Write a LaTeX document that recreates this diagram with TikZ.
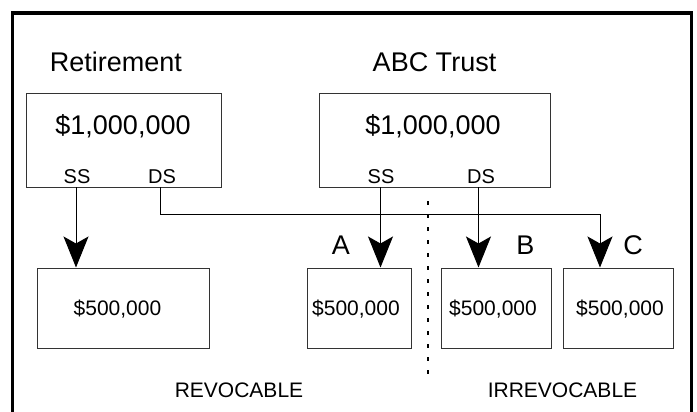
\documentclass[tikz,border=0pt]{standalone}
\usepackage{fontspec}
\setmainfont{Liberation Sans}
\usetikzlibrary{arrows.meta}

\tikzset{
  box/.style={draw=black!80, line width=1pt, inner sep=0pt},
  bigbox/.style={box, minimum width=195pt, minimum height=93pt},
  smallbox/.style={box, minimum width=104pt, minimum height=80pt},
  flow/.style={line width=1pt, -{Stealth[length=31pt,width=25pt,inset=7pt]}},
}

\begin{document}
\begin{tikzpicture}[x=1pt,y=-1pt]
\useasboundingbox (0,0) rectangle (697,412);
% outer frame, runs off the bottom
\draw[line width=3.5pt] (12.5,430) -- (12.5,13) -- (691.5,13) -- (691.5,430);

% the two accounts
\node[font=\fontsize{27}{30}\selectfont] (rettitle) at (116,62) {Retirement};
\node[font=\fontsize{27}{30}\selectfont] (abctitle) at (434.5,62) {ABC Trust};
\node[bigbox, minimum width=195pt] (ret) at (123.5,140.5) {};
\node[bigbox, minimum width=231pt] (abc) at (434.5,140.5) {};
\node[font=\fontsize{27}{30}\selectfont] (retamt) at (123,126) {\$1,000,000};
\node[font=\fontsize{27}{30}\selectfont] (abcamt) at (433,126) {\$1,000,000};
\node[font=\fontsize{20}{22}\selectfont] (retss) at (77,177) {SS};
\node[font=\fontsize{20}{22}\selectfont] (retds) at (162,177) {DS};
\node[font=\fontsize{20}{22}\selectfont] (abcss) at (381,177) {SS};
\node[font=\fontsize{20}{22}\selectfont] (abcds) at (481,177) {DS};

% the shares
\node[box, minimum width=172pt, minimum height=80pt] (low) at (123,308) {};
\node[smallbox] (lowa) at (359,308) {};
\node[smallbox, minimum width=110pt] (lowb) at (496,308) {};
\node[smallbox, minimum width=110pt] (lowc) at (618,308) {};
\node[font=\fontsize{21}{24}\selectfont] (amt0) at (117.5,309) {\$500,000};
\node[font=\fontsize{21}{24}\selectfont] (amta) at (356,309) {\$500,000};
\node[font=\fontsize{21}{24}\selectfont] (amtb) at (493,309) {\$500,000};
\node[font=\fontsize{21}{24}\selectfont] (amtc) at (620,309) {\$500,000};
\node[font=\fontsize{27}{30}\selectfont] (laba) at (341,245) {A};
\node[font=\fontsize{27}{30}\selectfont] (labb) at (525.5,245) {B};
\node[font=\fontsize{27}{30}\selectfont] (labc) at (633,245) {C};

% where each share comes from
\coordinate (p1) at (76,187);
\coordinate (p2) at (160,187);
\coordinate (p3) at (380.5,187);
\coordinate (p4) at (478.5,187);
\coordinate (bend) at (600,214);
\draw[flow] (p1) -- (p1 |- low.north);
\draw[flow] (p3) -- (p3 |- lowa.north);
\draw[flow] (p4) -- (p4 |- lowb.north);
\draw[line width=1pt] (p2) |- (bend);
\draw[flow] (bend) -- (bend |- lowc.north);

% split between the two kinds
\coordinate (sep1) at (428,201);
\coordinate (sep2) at (428,374);
\draw[line width=1.2pt, dash pattern=on 4pt off 9pt] (sep1) -- (sep2);
\node[font=\fontsize{21}{23}\selectfont] (revo) at (239,390) {REVOCABLE};
\node[font=\fontsize{21}{23}\selectfont] (irrevo) at (562.5,390) {IRREVOCABLE};
\end{tikzpicture}
\end{document}
